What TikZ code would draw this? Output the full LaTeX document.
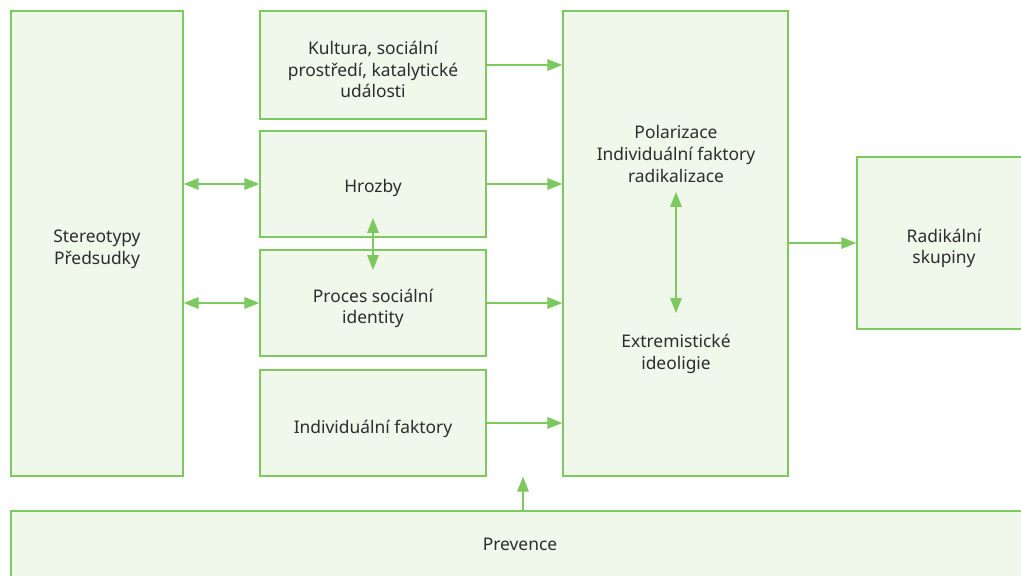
\documentclass[tikz,border=0pt]{standalone}
\usepackage{fontspec}
\setmainfont{Noto Sans}
\usepackage{xcolor}
\usetikzlibrary{arrows.meta}
\definecolor{boxline}{RGB}{125, 200, 95}
\definecolor{boxfill}{RGB}{240, 247, 235}
\definecolor{textgray}{RGB}{45, 45, 45}

\begin{document}
\begin{tikzpicture}[x=0.02cm, y=-0.02cm,
    box/.style={draw=boxline, fill=boxfill, line width=0.7pt, inner sep=0pt},
    txt/.style={align=center, text=textgray, font=\fontsize{9.9}{12.3}\selectfont},
    boxtxt/.style={txt, yshift=-0.11cm},
    link/.style={draw=boxline, line width=0.9pt, -{Triangle[length=8.5pt, width=6.5pt]}},
    both/.style={draw=boxline, line width=0.9pt, {Triangle[length=8.5pt, width=6.5pt]}-{Triangle[length=8.5pt, width=6.5pt]}},
]
    \useasboundingbox (0,0) rectangle (1021,575);
    \clip (0,0) rectangle (1021,575);

    \node[box, minimum width=3.44cm, minimum height=9.3cm, label={[boxtxt]center:{Stereotypy\\Předsudky}}] (stereo) at (97,243.5) {};
    \node[box, minimum width=4.52cm, minimum height=2.16cm, label={[boxtxt, yshift=0.02cm]center:{Kultura, sociální\\prostředí, katalytické\\události}}] (kultura) at (373,65) {};
    \node[box, minimum width=4.52cm, minimum height=2.12cm, label={[boxtxt, yshift=0.03cm]center:Hrozby}] (hrozby) at (373,184) {};
    \node[box, minimum width=4.52cm, minimum height=2.12cm, label={[boxtxt]center:{Proces sociální\\identity}}] (proces) at (373,303) {};
    \node[box, minimum width=4.52cm, minimum height=2.12cm, label={[boxtxt]center:{Individuální faktory}}] (indiv) at (373,423) {};
    \node[box, minimum width=4.5cm, minimum height=9.3cm] (polar) at (675.5,243.5) {};
    \node[box, minimum width=3.48cm, minimum height=3.44cm, label={[boxtxt]center:{Radikální\\skupiny}}] (skupiny) at (944,243) {};
    \node[box, minimum width=20.38cm, minimum height=2cm] (prevence) at (520.5,561) {};
    \node[txt] (prevtext) at (520,544) {Prevence};

    % texty ve velkem boxu
    \node[txt] (poltext) at (676,154) {Polarizace\\Individuální faktory\\radikalizace};
    \node[txt] (extext) at (676,354) {Extremistické\\ideoligie};
    \coordinate (pt) at (676,192);
    \coordinate (pb) at (676,313);
    \coordinate (ht) at (373,218);
    \coordinate (hb) at (373,270);

    \draw[link] (kultura) -- (kultura -| polar.west);
    \draw[link] (hrozby) -- (hrozby -| polar.west);
    \draw[link] (proces) -- (proces -| polar.west);
    \draw[link] (indiv) -- (indiv -| polar.west);
    \draw[both] (stereo.east |- hrozby) -- (hrozby.west);
    \draw[both] (stereo.east |- proces) -- (proces.west);
    \draw[both] (ht) -- (hb);
    \draw[both] (pt) -- (pb);
    \draw[link] (polar.east |- skupiny) -- (skupiny.west);
    \draw[link] (prevence.north -| 523,0) -- (polar.south -| 523,0);
\end{tikzpicture}
\end{document}
